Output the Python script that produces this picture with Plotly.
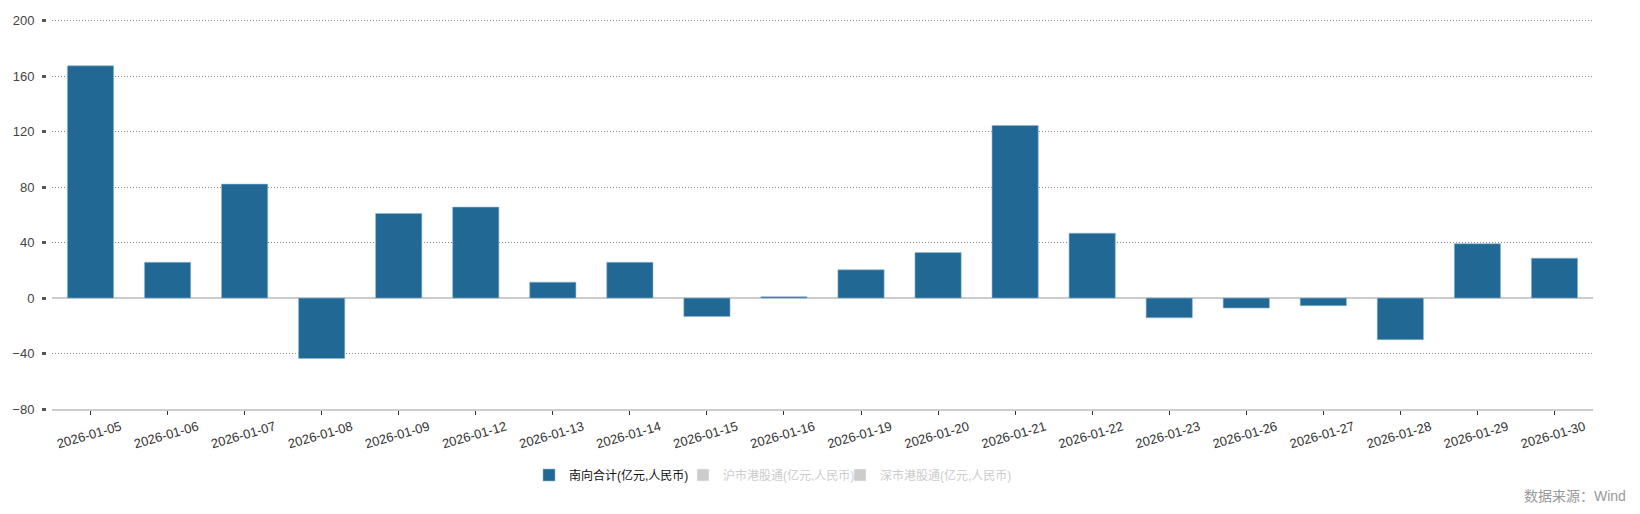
import plotly.graph_objects as go

dates = ["2026-01-05", "2026-01-06", "2026-01-07", "2026-01-08", "2026-01-09",
         "2026-01-12", "2026-01-13", "2026-01-14", "2026-01-15", "2026-01-16",
         "2026-01-19", "2026-01-20", "2026-01-21", "2026-01-22", "2026-01-23",
         "2026-01-26", "2026-01-27", "2026-01-28", "2026-01-29", "2026-01-30"]
southbound_total = [167.5, 25.8, 82.2, -43.6, 61.0, 65.6, 11.5, 25.8, -13.3, 1.0,
                    20.4, 32.8, 124.5, 46.8, -14.2, -7.2, -5.5, -30.0, 39.2, 28.8]
sh_connect = [None] * len(dates)
sz_connect = [None] * len(dates)

names = ["南向合计(亿元,人民币)", "沪市港股通(亿元,人民币)", "深市港股通(亿元,人民币)"]
y_ticks = [-80, -40, 0, 40, 80, 120, 160, 200]

FONT = "Liberation Sans, Arial, Noto Sans CJK SC, sans-serif"

# page has an 8px body margin; figure sized to fit inside the 1640x514 window
OFF = 8
FW, FH = 1640 - 2 * OFF, 514 - 2 * OFF
L, T, H, W = 52 - OFF, 18 - OFF, 391, 1541


def px_x(p):  # page pixel -> paper x
    return (p - OFF - L) / W


def px_y(p):  # page pixel -> paper y
    return (T + H - (p - OFF)) / H


fig = go.Figure()
fig.add_trace(go.Bar(x=dates, y=southbound_total, name=names[0], showlegend=True,
                     marker=dict(color="#216895", line=dict(width=0.6, color="#8fb8d4")),
                     width=0.6, legend="legend"))
fig.add_trace(go.Bar(x=dates, y=sh_connect, name=names[1], visible="legendonly",
                     showlegend=True, marker=dict(color="#9a9a9a"), legend="legend2"))
fig.add_trace(go.Bar(x=dates, y=sz_connect, name=names[2], visible="legendonly",
                     showlegend=True, marker=dict(color="#9a9a9a"), legend="legend3"))

leg_common = dict(orientation="h", xanchor="left", yanchor="middle", itemwidth=30,
                  bgcolor="rgba(0,0,0,0)", y=px_y(475))
fig.update_layout(
    width=FW, height=FH,
    margin=dict(l=L, r=FW - L - W, t=T, b=FH - T - H, autoexpand=False),
    plot_bgcolor="white", paper_bgcolor="white",
    font=dict(family=FONT, size=12, color="#333"),
    barmode="overlay",
    showlegend=True,
    legend=dict(x=px_x(568 - 39), font=dict(size=12, color="#111"), **leg_common),
    legend2=dict(x=px_x(716 - 33), font=dict(size=12, color="#999"), **leg_common),
    legend3=dict(x=px_x(874 - 34), font=dict(size=12, color="#999"), **leg_common),
    annotations=[dict(text="数据来源：Wind", xref="paper", yref="paper",
                      x=px_x(1628), y=px_y(496),
                      xanchor="right", yanchor="middle", showarrow=False,
                      font=dict(size=14, color="#999"))],
    shapes=[dict(type="rect", xref="paper", yref="paper",
                 x0=px_x(46), x1=px_x(51.6), y0=-0.01, y1=1.01,
                 fillcolor="white", line=dict(width=0), layer="above")],
)

fig.update_xaxes(type="category", showgrid=False, showline=True, linecolor="#cccccc",
                 linewidth=1.5, ticks="outside", ticklen=4, tickwidth=1, tickcolor="#333",
                 tickangle=-16, tickfont=dict(size=13, color="#333"),
                 ticklabelshift=30, automargin=False)
fig.update_yaxes(range=[-80, 202], tickvals=y_ticks, showgrid=True, gridcolor="#888",
                 griddash="1px,2px", gridwidth=1, zeroline=True, zerolinecolor="#cccccc",
                 zerolinewidth=1.5, ticks="outside", ticklen=9, tickwidth=3,
                 tickcolor="#555", tickfont=dict(size=13, color="#444"),
                 ticklabelstandoff=5, automargin=False)

fig.write_html("out.html")
